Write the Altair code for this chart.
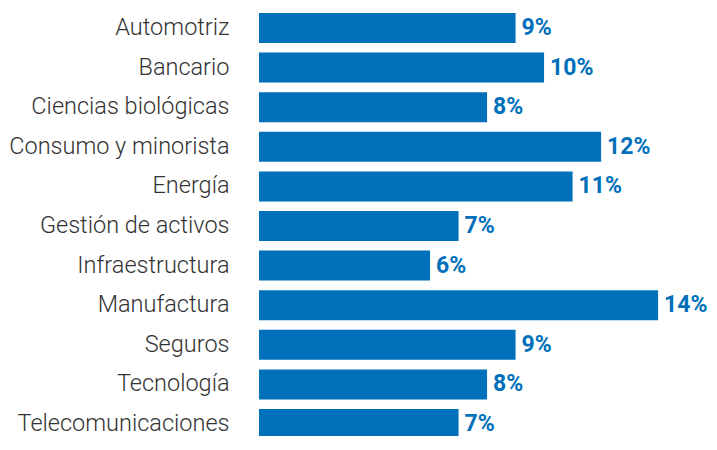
import altair as alt
import pandas as pd

categories = ["Automotriz", "Bancario", "Ciencias biológicas", "Consumo y minorista",
              "Energía", "Gestión de activos", "Infraestructura", "Manufactura",
              "Seguros", "Tecnología", "Telecomunicaciones"]
values = [9, 10, 8, 12, 11, 7, 6, 14, 9, 8, 7]
labels = [f"{v}%" for v in values]

df = pd.DataFrame({"cat": categories, "val": values, "label": labels})

BLUE = "#0070BA"

y = alt.Y("cat:N", sort=categories, title=None,
          scale=alt.Scale(range=[5, 431], paddingInner=0.242, paddingOuter=0),
          axis=alt.Axis(domain=False, ticks=False, labelPadding=30,
                        labelFont="Roboto", labelFontWeight=300, labelFontSize=23.5,
                        labelColor="#333333", labelLimit=300))
x = alt.X("val:Q", scale=alt.Scale(domain=[0, 15.75], nice=False), axis=None)

bars = alt.Chart(df).mark_bar(color=BLUE).encode(x=x, y=y)
text = alt.Chart(df).mark_text(align="left", baseline="middle", dx=6, dy=0,
                               font="Roboto", fontWeight="bold", fontSize=23,
                               color=BLUE).encode(x=x, y=y, text="label:N")

chart = (bars + text).properties(
    width=449, height=428,
    padding={"left": 251, "top": 0, "right": 0, "bottom": 0},
    autosize=alt.AutoSizeParams(type="none"),
).configure_view(stroke=None)
chart.save("out.html", embed_options={"renderer": "svg", "actions": False})
